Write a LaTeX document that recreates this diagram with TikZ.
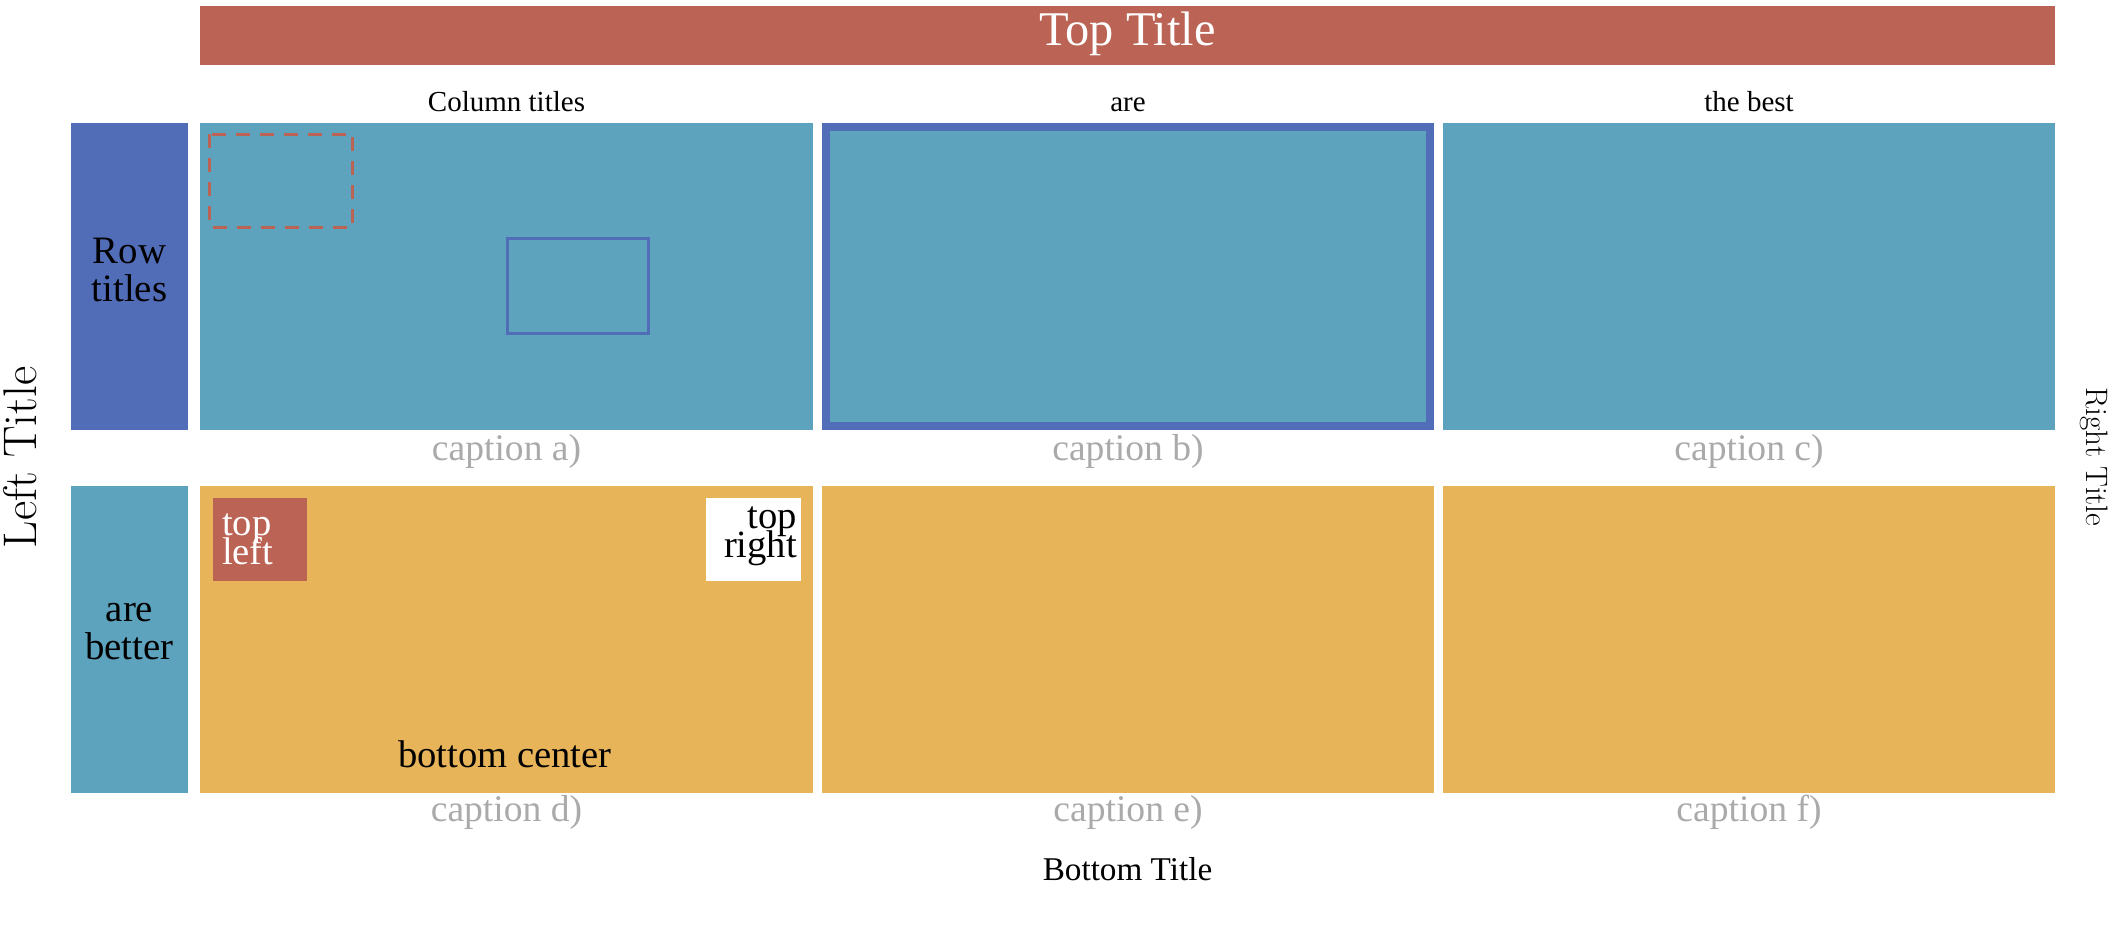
\documentclass[tikz,border=0pt]{standalone}
\usepackage{fontspec}
\newfontfamily\lib{Liberation Serif}
\lineskiplimit=-100pt
\definecolor{cred}{HTML}{BB6354}
\definecolor{ccyan}{HTML}{5DA3BD}
\definecolor{cblue}{HTML}{516DB8}
\definecolor{corange}{HTML}{E8B45A}
\definecolor{cgray}{HTML}{AAAAAA}
\tikzset{
  txt/.style={inner sep=0pt, outer sep=0pt},
  coltitle/.style={txt, anchor=base, font=\lib\fontsize{14.5pt}{17pt}\selectfont},
  captxt/.style={txt, anchor=base, text=cgray, font=\lib\fontsize{18.8pt}{22pt}\selectfont},
  rowtxt/.style={txt, anchor=base, align=center, font=\lib\fontsize{19.4pt}{19pt}\selectfont},
  celltxt/.style={txt, anchor=base, font=\lib\fontsize{19.3pt}{14.5pt}\selectfont},
}
\begin{document}
\begin{tikzpicture}[x=0.5pt,y=-0.5pt]
\useasboundingbox (0,0) rectangle (2127,929);
% top bar
\fill[cred] (200,6) rectangle (2055,65);
\node[txt, anchor=base, text=white, font=\lib\fontsize{24.2pt}{28pt}\selectfont] (toptitle) at (1127.5,46) {Top Title};
% column titles
\node[coltitle] (col1) at (506.5,112) {Column titles};
\node[coltitle] (col2) at (1128,112) {are};
\node[coltitle] (col3) at (1749,112) {the best};
% row title blocks
\fill[cblue] (71,123) rectangle (188,430);
\fill[ccyan] (71,486) rectangle (188,793);
\node[rowtxt] (row1) at (129.5,302) {Row\\titles};
\node[rowtxt] (row2) at (129.5,660) {are\\better};
% row 1 cells
\fill[ccyan] (200,123) rectangle (813,430);
\fill[ccyan] (822,123) rectangle (1434,430);
\fill[ccyan] (1443,123) rectangle (2055,430);
\draw[cred, line width=1.5pt, dash pattern=on 7pt off 5pt] (209.5,134.5) rectangle (352.5,227.5);
\draw[cblue, line width=1.5pt] (507.5,238.5) rectangle (648.5,333.5);
\draw[cblue, line width=4pt] (826,127) rectangle (1430,426);
% captions row 1
\node[captxt] (capa) at (506.5,461) {caption a)};
\node[captxt] (capb) at (1128,461) {caption b)};
\node[captxt] (capc) at (1749,461) {caption c)};
% row 2 cells
\fill[corange] (200,486) rectangle (813,793);
\fill[corange] (822,486) rectangle (1434,793);
\fill[corange] (1443,486) rectangle (2055,793);
\fill[cred] (213,498) rectangle (307,581);
\fill[white] (706,498) rectangle (801,581);
\node[celltxt, anchor=base west, align=left, text=white] (tl) at (222,565) {top\\left};
\node[celltxt, anchor=base east, align=right] (tr) at (797,558) {top\\right};
\node[celltxt] (bc) at (505,768) {bottom center};
% captions row 2
\node[captxt] (capd) at (506.5,822) {caption d)};
\node[captxt] (cape) at (1128,822) {caption e)};
\node[captxt] (capf) at (1749,822) {caption f)};
% outer titles
\node[txt, anchor=base, font=\lib\fontsize{16.6pt}{20pt}\selectfont] (bottomtitle) at (1127.5,881) {Bottom Title};
\node[txt, anchor=base, rotate=90, font=\fontsize{23.6pt}{28pt}\selectfont] (lefttitle) at (36,457.5) {Left Title};
\node[txt, anchor=base, rotate=-90, font=\fontsize{15.5pt}{18pt}\selectfont] (righttitle) at (2086,457) {Right Title};
\end{tikzpicture}
\end{document}
